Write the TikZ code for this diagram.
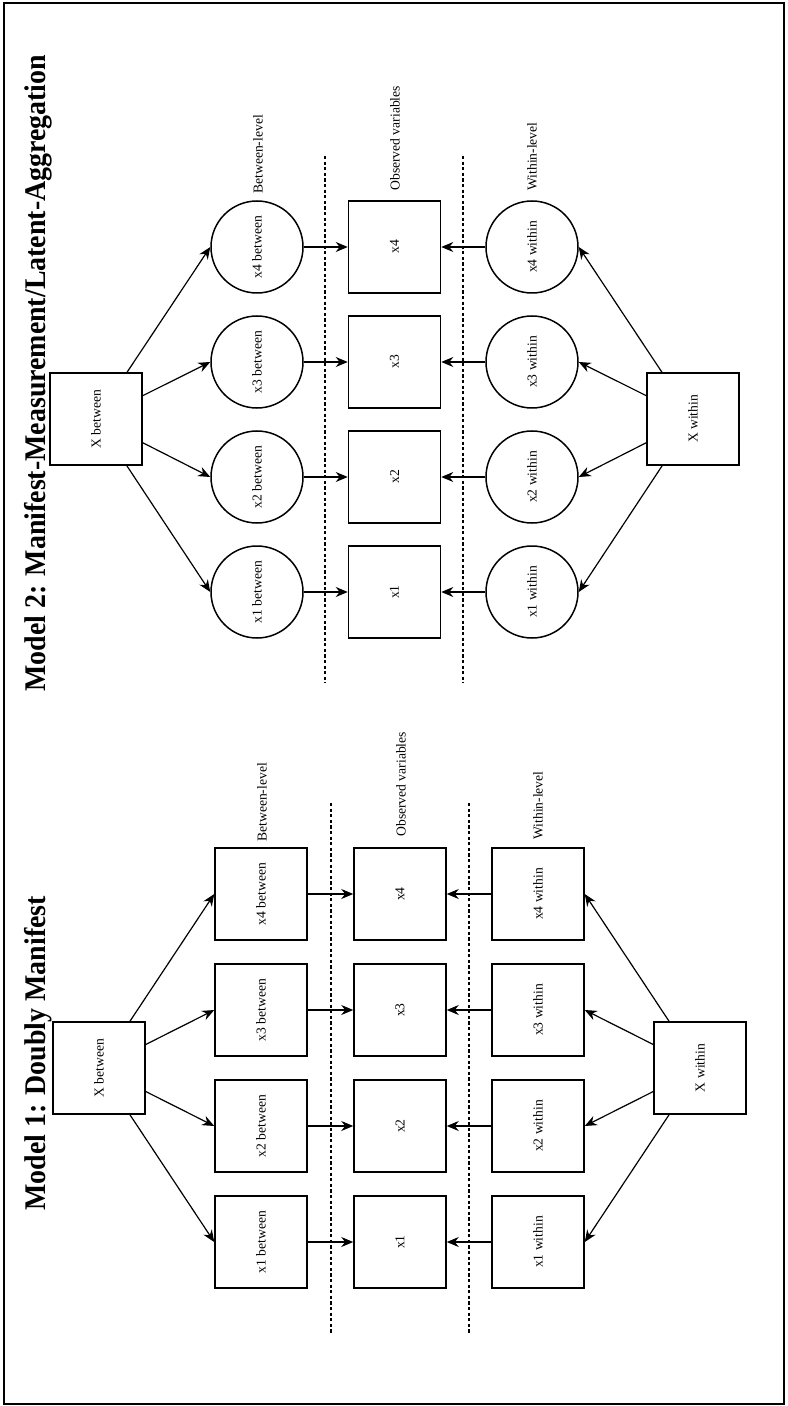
\documentclass[tikz,border=0pt]{standalone}
\usepackage{fontspec}
\setmainfont{Liberation Serif}
\newfontfamily\ttlfont[FakeStretch=0.93]{Liberation Serif}
\usetikzlibrary{arrows.meta}

\tikzset{
	obsbox/.style={draw, rotate=90, minimum size=46pt, inner sep=0pt, line width=0.75pt, font=\fontsize{6.8}{7}\selectfont},
	latcirc/.style={obsbox, circle},
	lvl/.style={rotate=90, anchor=west, inner sep=0pt, font=\fontsize{6.8}{7}\selectfont},
	ttl/.style={rotate=90, anchor=base west, inner sep=0pt, font=\ttlfont\fontsize{15}{17}\selectfont\bfseries},
	arr/.style={-{Stealth[length=6pt,width=5pt]}, line width=0.6pt},
	divider/.style={line width=0.55pt, dash pattern=on 1.6pt off 1.2pt}
}

\begin{document}
\begin{tikzpicture}[x=0.5pt, y=-0.5pt]
		\useasboundingbox (0,0) rectangle (787,1406);
		\draw[line width=1.4pt] (4,3) rectangle (784,1404);
		% Model 2 (top half)
		\node[ttl] (t2) at (45,692) {Model 2: Manifest-Measurement/Latent-Aggregation};
		\node[obsbox] (lXb) at (96,419) {X between};
		\node[obsbox] (lXw) at (693,419) {X within};
		\node[latcirc] (lb4) at (257,247) {x4 between};
		\node[latcirc] (lb3) at (257,362) {x3 between};
		\node[latcirc] (lb2) at (257,477) {x2 between};
		\node[latcirc] (lb1) at (257,592) {x1 between};
		\node[obsbox] (lo4) at (394.5,247) {x4};
		\node[obsbox] (lo3) at (394.5,362) {x3};
		\node[obsbox] (lo2) at (394.5,477) {x2};
		\node[obsbox] (lo1) at (394.5,592) {x1};
		\node[latcirc] (lw4) at (532,247) {x4 within};
		\node[latcirc] (lw3) at (532,362) {x3 within};
		\node[latcirc] (lw2) at (532,477) {x2 within};
		\node[latcirc] (lw1) at (532,592) {x1 within};
		\node[lvl] (lbl) at (258,194) {Between-level};
		\node[lvl] (lol) at (395,191) {Observed variables};
		\node[lvl] (lwl) at (532,191) {Within-level};
		\draw[divider] (325,156) -- (325,683);
		\draw[divider] (463,156) -- (463,683);
		\draw[arr] (lXb) -- (lb4.north);
		\draw[arr] (lXb) -- (lb3.north);
		\draw[arr] (lXb) -- (lb2.north);
		\draw[arr] (lXb) -- (lb1.north);
		\draw[arr] (lXw) -- (lw4.south);
		\draw[arr] (lXw) -- (lw3.south);
		\draw[arr] (lXw) -- (lw2.south);
		\draw[arr] (lXw) -- (lw1.south);
		\draw[arr] (lb4) -- (lo4);
		\draw[arr] (lb3) -- (lo3);
		\draw[arr] (lb2) -- (lo2);
		\draw[arr] (lb1) -- (lo1);
		\draw[arr] (lw4) -- (lo4);
		\draw[arr] (lw3) -- (lo3);
		\draw[arr] (lw2) -- (lo2);
		\draw[arr] (lw1) -- (lo1);
		% Model 1 (bottom half)
		\node[ttl] (t1) at (45,1211) {Model 1: Doubly Manifest};
		\node[obsbox] (dXb) at (99,1068) {X between};
		\node[obsbox] (dXw) at (700,1068) {X within};
		\node[obsbox] (db4) at (261,894) {x4 between};
		\node[obsbox] (db3) at (261,1010) {x3 between};
		\node[obsbox] (db2) at (261,1126) {x2 between};
		\node[obsbox] (db1) at (261,1242) {x1 between};
		\node[obsbox] (do4) at (400,894) {x4};
		\node[obsbox] (do3) at (400,1010) {x3};
		\node[obsbox] (do2) at (400,1126) {x2};
		\node[obsbox] (do1) at (400,1242) {x1};
		\node[obsbox] (dw4) at (538,894) {x4 within};
		\node[obsbox] (dw3) at (538,1010) {x3 within};
		\node[obsbox] (dw2) at (538,1126) {x2 within};
		\node[obsbox] (dw1) at (538,1242) {x1 within};
		\node[lvl] (dbl) at (262,842) {Between-level};
		\node[lvl] (dol) at (401,837) {Observed variables};
		\node[lvl] (dwl) at (538,840) {Within-level};
		\draw[divider] (331,803) -- (331,1334);
		\draw[divider] (469,803) -- (469,1334);
		\draw[arr] (dXb) -- (db4.north);
		\draw[arr] (dXb) -- (db3.north);
		\draw[arr] (dXb) -- (db2.north);
		\draw[arr] (dXb) -- (db1.north);
		\draw[arr] (dXw) -- (dw4.south);
		\draw[arr] (dXw) -- (dw3.south);
		\draw[arr] (dXw) -- (dw2.south);
		\draw[arr] (dXw) -- (dw1.south);
		\draw[arr] (db4) -- (do4);
		\draw[arr] (db3) -- (do3);
		\draw[arr] (db2) -- (do2);
		\draw[arr] (db1) -- (do1);
		\draw[arr] (dw4) -- (do4);
		\draw[arr] (dw3) -- (do3);
		\draw[arr] (dw2) -- (do2);
		\draw[arr] (dw1) -- (do1);
	\end{tikzpicture}
\end{document}
